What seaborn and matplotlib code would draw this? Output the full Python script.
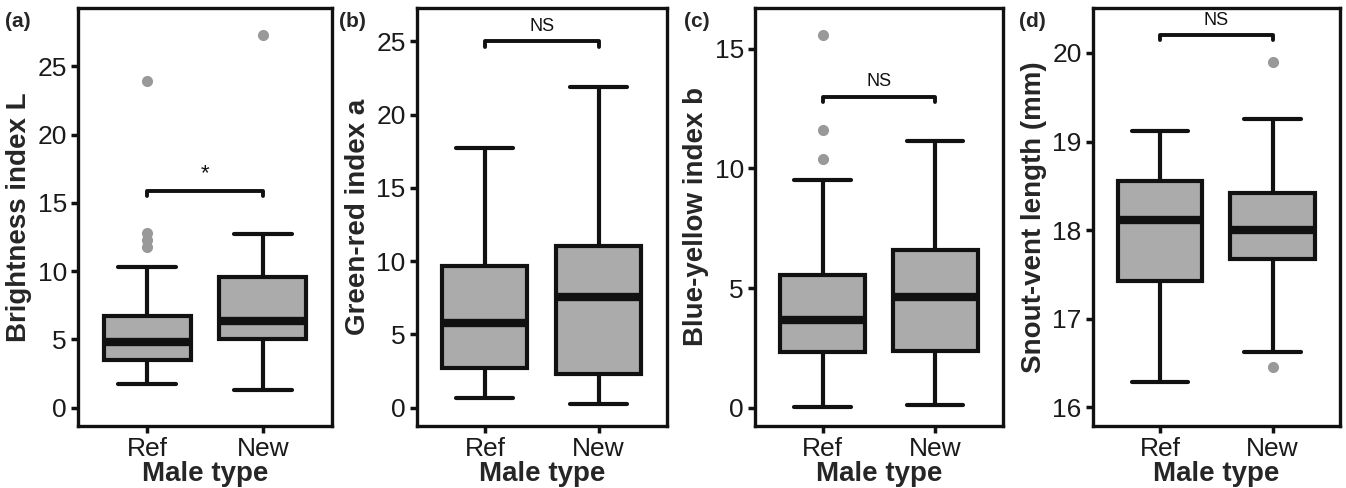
#!/usr/bin/env python3
"""Four-panel boxplot figure: colour indices and body size by male type."""

import matplotlib
matplotlib.use("Agg")
import matplotlib.pyplot as plt
import seaborn as sns

groups = ["Ref", "New"]

# five-number summaries: whislo, q1, median, q3, whishi
brightness_stats = [[1.72, 3.5, 4.78, 6.74, 10.34], [1.3, 5.02, 6.37, 9.56, 12.75]]
brightness_out = [[11.76, 12.3, 12.82, 23.9], [27.33]]

greenred_stats = [[0.62, 2.67, 5.75, 9.66, 17.74], [0.27, 2.28, 7.58, 11.0, 21.92]]
greenred_out = [[], []]

blueyellow_stats = [[0.03, 2.34, 3.68, 5.53, 9.51], [0.1, 2.36, 4.62, 6.58, 11.15]]
blueyellow_out = [[10.38, 11.59, 15.6], []]

svl_stats = [[16.29, 17.43, 18.11, 18.55, 19.12], [16.63, 17.67, 18.0, 18.42, 19.26]]
svl_out = [[], [16.46, 19.9]]

panel_tags = ["(a)", "(b)", "(c)", "(d)"]
y_labels = ["Brightness index L", "Green-red index a", "Blue-yellow index b",
            "Snout-vent length (mm)"]
sig_labels = ["*", "NS", "NS", "NS"]
bracket_y = [15.9, 25.0, 13.0, 20.2]
y_limits = [(-1.35, 29.3), (-1.26, 27.3), (-0.77, 16.72), (15.79, 20.51)]
y_ticks = [[0, 5, 10, 15, 20, 25], [0, 5, 10, 15, 20, 25], [0, 5, 10, 15],
           [16, 17, 18, 19, 20]]

sns.set_theme(style="ticks")
plt.rcParams["font.family"] = ["Liberation Sans", "DejaVu Sans"]

fig = plt.figure(figsize=(13.46, 4.88), dpi=100)
lefts = [0.0580, 0.3096, 0.5609, 0.8118]
widths = [0.1887, 0.1857, 0.1842, 0.1837]
tag_x = [0.004, 0.252, 0.508, 0.757]

panels = [
    (brightness_stats, brightness_out),
    (greenred_stats, greenred_out),
    (blueyellow_stats, blueyellow_out),
    (svl_stats, svl_out),
]

for i, (stats, outs) in enumerate(panels):
    ax = fig.add_axes([lefts[i], 0.127, widths[i], 0.857])
    bxp_stats = []
    for name, s, o in zip(groups, stats, outs):
        bxp_stats.append({
            "label": name, "whislo": s[0], "q1": s[1], "med": s[2],
            "q3": s[3], "whishi": s[4], "fliers": o,
        })
    ax.bxp(
        bxp_stats,
        positions=[0, 1],
        widths=0.75,
        patch_artist=True,
        showfliers=True,
        boxprops=dict(facecolor="#ababab", edgecolor="#111111", linewidth=3.0),
        medianprops=dict(color="#111111", linewidth=6.0, solid_capstyle="butt"),
        whiskerprops=dict(color="#111111", linewidth=3.0),
        capprops=dict(color="#111111", linewidth=3.0),
        capwidths=0.5,
        flierprops=dict(marker="o", markerfacecolor="#999999",
                        markeredgecolor="#999999", markersize=7),
    )

    lo, hi = y_limits[i]
    tick = (hi - lo) * 0.012
    y = bracket_y[i]
    ax.plot([0, 0, 1, 1], [y - tick, y, y, y - tick], color="#111111",
            linewidth=2.8, solid_capstyle="round", solid_joinstyle="round")
    fs = 16 if sig_labels[i] == "*" else 13
    ax.text(0.5, y + (hi - lo) * 0.015, sig_labels[i], ha="center",
            va="bottom", fontsize=fs, color="#111111")

    ax.set_xlim(-0.6, 1.6)
    ax.set_ylim(lo, hi)
    ax.set_yticks(y_ticks[i])
    ax.set_xticks([0, 1])
    ax.set_xticklabels(groups)
    ax.tick_params(axis="both", labelsize=19, colors="#111111",
                   labelcolor="#1a1a1a", length=5, width=2.5, direction="out",
                   pad=3)
    for sp in ax.spines.values():
        sp.set_linewidth(2.4)
        sp.set_color("#111111")
    ax.set_ylabel(y_labels[i], fontsize=20, fontweight="bold", labelpad=4)
    ax.set_xlabel("Male type", fontsize=20, fontweight="bold", labelpad=0)
    ax.grid(False)
    fig.text(tag_x[i], 0.955, panel_tags[i], fontsize=15, fontweight="bold",
             ha="left", va="center")

fig.savefig("out.png", dpi=100)
